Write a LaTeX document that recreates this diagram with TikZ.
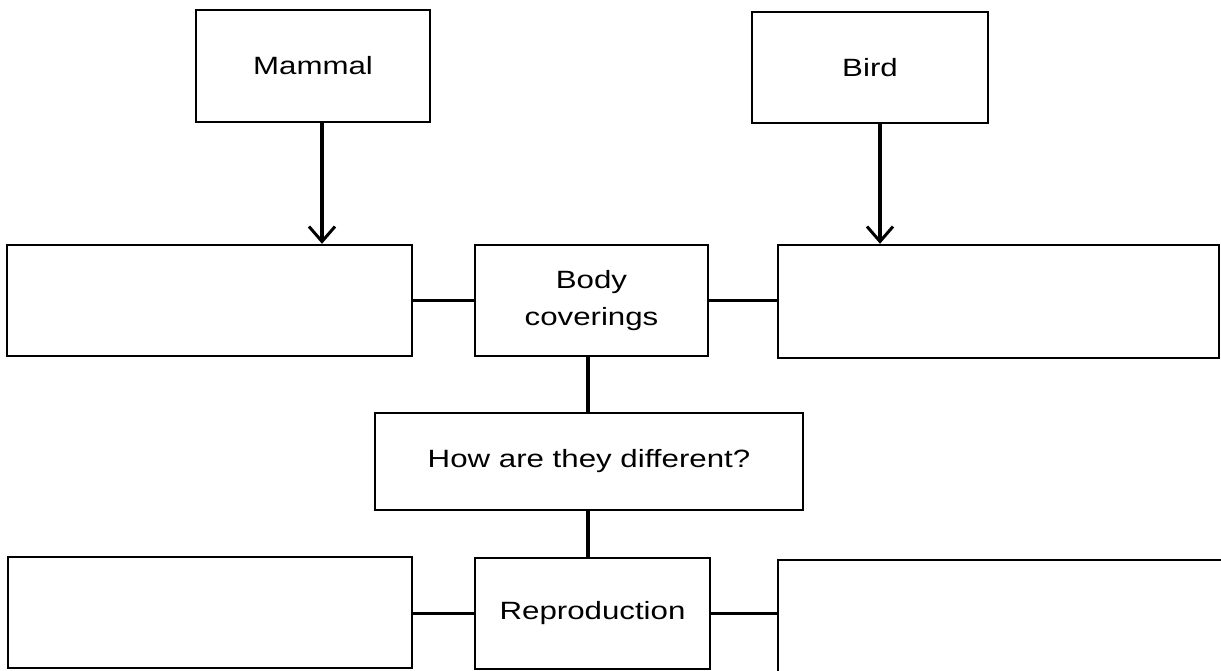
\documentclass[tikz,border=0pt]{standalone}
\usepackage{fontspec}
\setmainfont{Liberation Sans}
\newfontfamily\lab[FakeStretch=1.25]{Liberation Sans}
\usetikzlibrary{arrows.meta}
\begin{document}
\begin{tikzpicture}[x=1pt,y=-1pt,
  box/.style={draw=black,line width=2.4pt,fill=white,inner sep=0pt,align=center,
    font=\lab\fontsize{25}{37}\selectfont},
  link/.style={draw=black,line width=3.2pt},
  arr/.style={link,-{Straight Barb[length=15pt,width=26pt,line width=3pt]}}]
\useasboundingbox (0,0) rectangle (1221,671);
\clip (0,0) rectangle (1221,671);
\fill[white] (0,0) rectangle (1221,671);
\node[box,minimum width=234pt,minimum height=112pt] (mammal) at (313,66) {Mammal};
\node[box,minimum width=236pt,minimum height=111pt] (bird) at (870,67.5) {Bird};
\node[box,minimum width=405pt,minimum height=111pt] (left1) at (209.5,300.5) {};
\node[box,minimum width=233pt,minimum height=111pt] (body) at (591.5,300.5) {Body\\coverings};
\node[box,minimum width=441pt,minimum height=113pt] (right1) at (998.5,301.5) {};
\node[box,minimum width=428pt,minimum height=97pt] (how) at (589,461.5) {How are they different?};
\node[box,minimum width=404pt,minimum height=111pt] (left2) at (210,612.5) {};
\node[box,minimum width=235pt,minimum height=111pt] (repro) at (592.5,613.5) {Reproduction};
\node[box,minimum width=470pt,minimum height=130pt] (right2) at (1013,625) {};
\coordinate (ma) at (322,0);
\coordinate (ba) at (880,0);
\coordinate (mid) at (588,0);
\draw[arr] (mammal.south -| ma) -- (left1.north -| ma);
\draw[arr] (bird.south -| ba) -- (right1.north -| ba);
\draw[link] (left1.east) -- (body.west);
\draw[link] (body.east) -- (right1.west |- body.east);
\draw[link] (body.south -| mid) -- (how.north -| mid);
\draw[link] (how.south -| mid) -- (repro.north -| mid);
\draw[link] (left2.east |- repro.west) -- (repro.west);
\draw[link] (repro.east) -- (right2.west |- repro.east);
\end{tikzpicture}
\end{document}
